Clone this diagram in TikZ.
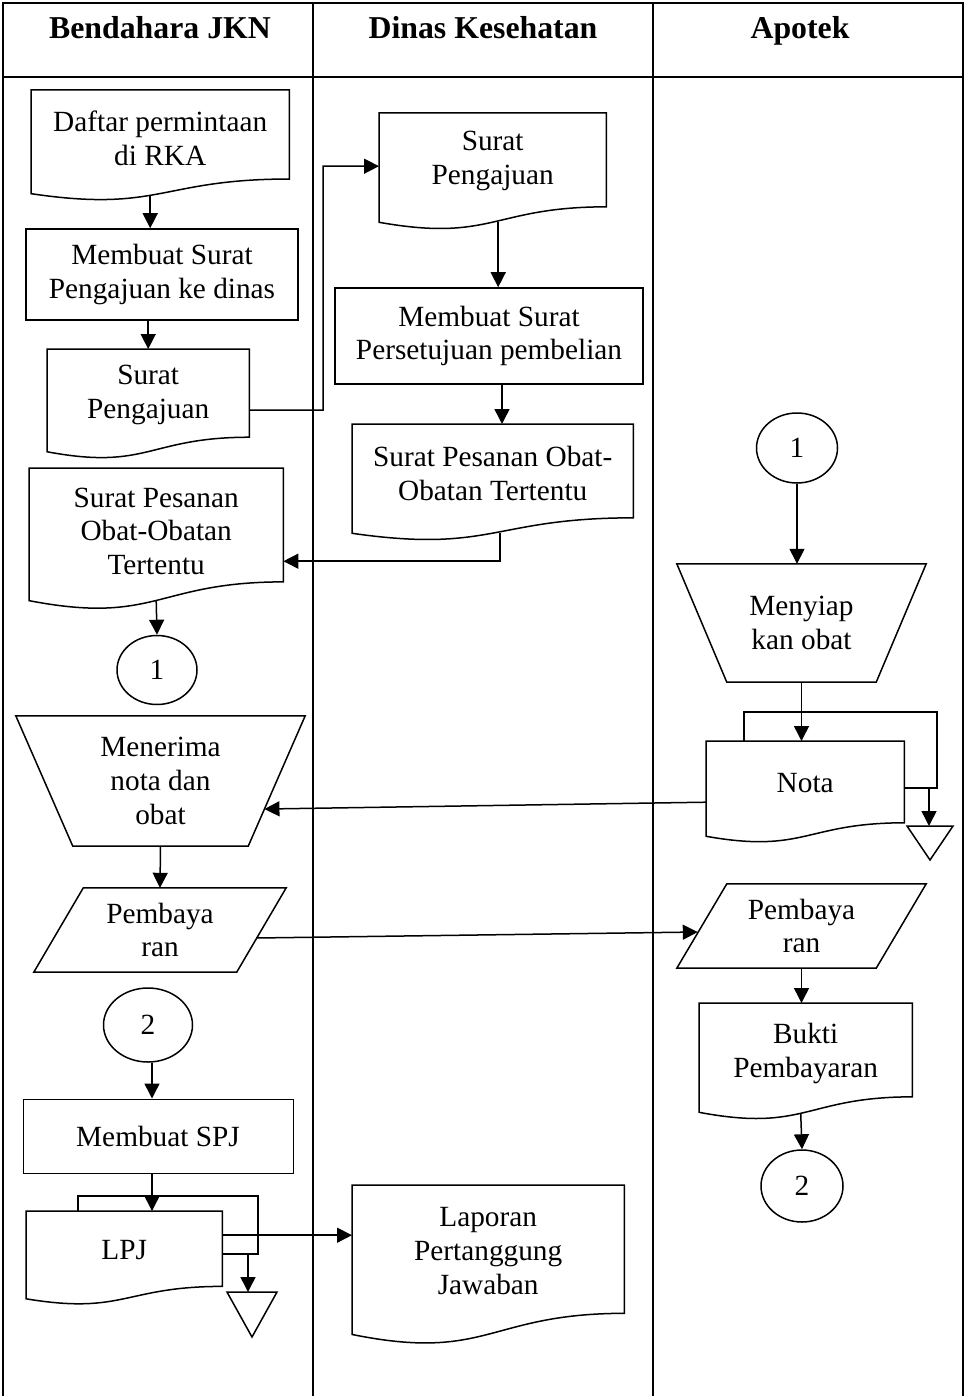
\documentclass[tikz,border=0pt]{standalone}
\usepackage{fontspec}
\setmainfont{Liberation Serif}
\usetikzlibrary{arrows.meta,shapes.geometric,calc}

\tikzset{
  lbl/.style={font=\fontsize{29.3}{33.7}\selectfont, align=center, inner sep=0pt},
  docbox/.style={lbl, rectangle, anchor=north west},
  procbox/.style={lbl, draw, line width=1.5pt, rectangle},
  plainbox/.style={lbl, rectangle},
  conn/.style={lbl, draw, line width=1.5pt, ellipse},
  shapeline/.style={line width=1.5pt, line join=miter},
  flow/.style={line width=1.5pt},
  arr/.style={line width=1.5pt, -{Triangle[length=15pt,width=15pt]}},
  tbl/.style={line width=2pt},
  head/.style={font=\fontsize{31.8}{36}\selectfont\bfseries, inner sep=0pt, anchor=base},
}

% document symbol: straight top and sides, wavy bottom (#2 = full height)
\newcommand\drawdoc[2]{%
  \draw[shapeline] (#1.north west) -- (#1.north east)
    -- ([yshift={-0.802*#2pt}]#1.north east)
    .. controls ([yshift={-0.802*#2pt}]#1.north) and ([yshift={-1.107*#2pt}]#1.north)
    .. ([yshift={-0.934*#2pt}]#1.north west) -- cycle;}
% manual operation: trapezium, wide side on top
\newcommand\drawtrap[2]{%
  \draw[shapeline] (#1.north west) -- (#1.north east)
    -- ([xshift={-#2pt}]#1.south east) -- ([xshift={#2pt}]#1.south west) -- cycle;}
% data symbol: parallelogram leaning right
\newcommand\drawparal[2]{%
  \draw[shapeline] ([xshift={#2pt}]#1.north west) -- (#1.north east)
    -- ([xshift={-#2pt}]#1.south east) -- (#1.south west) -- cycle;}

\begin{document}
\begin{tikzpicture}[x=1pt,y=-1pt]
\useasboundingbox (0,0) rectangle (966,1396);

% swimlane table
\draw[tbl] (3,1396) -- (3,3) -- (963,3) -- (963,1396);
\draw[tbl] (3,77) -- (963,77);
\draw[tbl] (313,3) -- (313,1396);
\draw[tbl] (653,3) -- (653,1396);

\node[head] (hA) at (160,39) {Bendahara JKN};
\node[head] (hB) at (483,39) {Dinas Kesehatan};
\node[head] (hC) at (800,39) {Apotek};

% ---- Bendahara JKN ----
\node[docbox, minimum width=258pt, minimum height=96pt] (daftar) at (31,90) {Daftar permintaan\\di RKA};
\node[procbox, minimum width=272pt, minimum height=91pt] (mkaju) at (162,274.5) {Membuat Surat\\Pengajuan ke dinas};
\node[docbox, minimum width=202pt, minimum height=92pt] (ajuA) at (47,349) {Surat\\Pengajuan};
\node[docbox, minimum width=254pt, minimum height=126pt] (psnA) at (29,468) {Surat Pesanan\\Obat-Obatan\\Tertentu};
\node[conn, minimum width=80pt, minimum height=69pt] (c1a) at (157,670) {1};
\node[plainbox, minimum width=289pt, minimum height=130pt] (terima) at (160.5,781) {Menerima\\nota dan\\obat};
\node[plainbox, minimum width=252pt, minimum height=84pt] (bayarA) at (160,930) {Pembaya\\ran};
\node[conn, minimum width=89pt, minimum height=74pt] (c2a) at (148,1025) {2};
\node[procbox, line width=1pt, minimum width=270pt, minimum height=74pt] (spj) at (158,1136) {Membuat SPJ};
\node[docbox, minimum width=196pt, minimum height=78pt] (lpj) at (26,1211) {LPJ};

% ---- Dinas Kesehatan ----
\node[docbox, minimum width=227pt, minimum height=96pt] (ajuB) at (379,113) {Surat\\Pengajuan};
\node[procbox, minimum width=308pt, minimum height=96pt] (setuju) at (489,336) {Membuat Surat\\Persetujuan pembelian};
\node[docbox, minimum width=281pt, minimum height=98pt] (psnB) at (352,424) {Surat Pesanan Obat-\\Obatan Tertentu};
\node[docbox, minimum width=272pt, minimum height=132pt] (lap) at (352,1185) {Laporan\\Pertanggung\\Jawaban};

% ---- Apotek ----
\node[conn, minimum width=81pt, minimum height=70pt] (c1b) at (797,448) {1};
\node[plainbox, minimum width=249pt, minimum height=118pt] (siap) at (801.5,623) {Menyiap\\kan obat};
\node[docbox, minimum width=198pt, minimum height=84pt] (nota) at (706,741) {Nota};
\node[plainbox, minimum width=249pt, minimum height=84pt] (bayarB) at (801.5,926) {Pembaya\\ran};
\node[docbox, minimum width=213pt, minimum height=100pt] (bukti) at (699,1003) {Bukti\\Pembayaran};
\node[conn, minimum width=82pt, minimum height=72pt] (c2b) at (802,1186) {2};

% outlines
\drawdoc{daftar}{111}
\drawdoc{ajuA}{110}
\drawdoc{psnA}{142}
\drawdoc{ajuB}{117}
\drawdoc{psnB}{117}
\drawdoc{lap}{160}
\drawdoc{nota}{102}
\drawdoc{bukti}{117}
\drawdoc{lpj}{94}
\drawtrap{terima}{57}
\drawtrap{siap}{50}
\drawparal{bayarA}{49.5}
\drawparal{bayarB}{50}

% ---- connectors: Bendahara JKN ----
\coordinate (a1) at ([xshift=-10pt,yshift=-105pt]daftar.north);
\draw[arr] (a1) -- (a1 |- mkaju.north);
\draw[arr] (ajuA.north |- mkaju.south) -- (ajuA.north);
\coordinate (j1) at (323,410);
\draw[arr] ([yshift=-15pt]ajuA.east) -- (j1) |- ([yshift=-5pt]ajuB.west);
\draw[arr] ([yshift=-133pt]psnA.north) -- (c1a.north);
\draw[arr] (terima.south) -- (bayarA.north);
\coordinate (p1) at ([xshift=-30pt,yshift=-8pt]bayarA.east);
\coordinate (p2) at ([xshift=21pt,yshift=-6pt]bayarB.west);
\draw[arr] (p1) -- (p2);
\coordinate (a7) at ([xshift=4pt]c2a.south);
\draw[arr] (a7) -- (a7 |- spj.north);
\coordinate (a8) at ([xshift=-6pt]spj.south);
\draw[arr] (a8) -- (a8 |- lpj.north);

% LPJ copy, file and report
\coordinate (lpjR) at (258,1254);
\draw[flow] ([xshift=52pt]lpj.north west) -- ++(0,-15) -| (lpjR) -- (lpjR -| lpj.east);
\coordinate (t2) at (252,1292);
\coordinate (lpjA) at (248,1254);
\draw[arr] (lpjA) -- (lpjA |- t2);
\draw[shapeline] ([xshift=-25pt]t2) -- ([xshift=25pt]t2) -- ([yshift=-45pt]t2) -- cycle;
\coordinate (lo) at ([yshift=15pt]lpj.east);
\draw[arr] (lo) -- (lo -| lap.west);

% ---- connectors: Dinas Kesehatan ----
\coordinate (a3) at ([xshift=5.5pt,yshift=-109pt]ajuB.north);
\draw[arr] (a3) -- (a3 |- setuju.north);
\coordinate (a4) at ([xshift=13pt]setuju.south);
\draw[arr] (a4) -- (a4 |- psnB.north);
\coordinate (a5) at ([xshift=7.5pt,yshift=-109pt]psnB.north);
\coordinate (a5e) at ([yshift=-30pt]psnA.east);
\draw[arr] (a5) |- (a5e);

% ---- connectors: Apotek ----
\draw[arr] (c1b.south) -- (c1b.south |- siap.north);
\draw[arr] (siap.south) -- (siap.south |- nota.north);
\coordinate (notaR) at (937,788);
\draw[flow] ([xshift=38pt]nota.north west) -- ++(0,-29) -| (notaR) -- (notaR -| nota.east);
\coordinate (t1) at (930,826);
\coordinate (notaA) at (929,788);
\draw[arr] (notaA) -- (notaA |- t1);
\draw[shapeline] ([xshift=-23pt]t1) -- ([xshift=23pt]t1) -- ([yshift=-34pt]t1) -- cycle;
\coordinate (n1) at ([yshift=-19pt]nota.west);
\coordinate (tmSE) at ([xshift=-57pt]terima.south east);
\coordinate (n2) at ($(terima.north east)!0.715!(tmSE)$);
\draw[arr] (n1) -- (n2);
\draw[arr] (bayarB.south) -- (bayarB.south |- bukti.north);
\draw[arr] ([xshift=-5pt,yshift=-110pt]bukti.north) -- (c2b.north);
\end{tikzpicture}
\end{document}
